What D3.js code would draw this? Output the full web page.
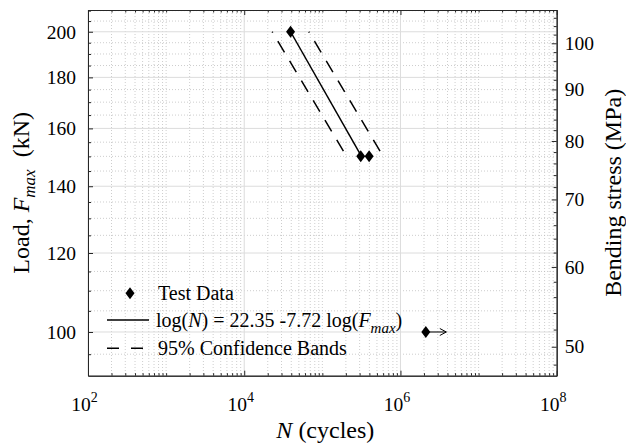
<!DOCTYPE html>
<html>
<head>
<meta charset="utf-8">
<script src="https://cdn.jsdelivr.net/npm/d3@7"></script>
<style>
  body { margin: 0; background: #fff; }
  .axis path, .axis line { stroke: #262626; }
</style>
</head>
<body>
<div id="chart"></div>
<script>
var margin = {top: 10, right: 69.3, bottom: 69.3, left: 88};
var serif = "'Liberation Serif', 'Times New Roman', Times, serif";

// test results
var testN = [3.92e4, 3.10e5, 3.97e5];
var testF = [200, 150, 150];
// run-out (no failure)
var runoutN = [2.11e6];
var runoutF = [100];
// regression line and 95% bands, end points
var fitN = [3.92e4, 3.17e5];
var fitF = [200, 150];
var lowerN = [2.28e4, 2.04e5];
var lowerF = [200, 150];
var upperN = [6.71e4, 6.0e5];
var upperF = [200, 150];

var xTicks = [1e2, 1e4, 1e6, 1e8];
var xTickExp = ["2", "4", "6", "8"];
var loadTicks = [100, 120, 140, 160, 180, 200];
var stressTicks = [50, 60, 70, 80, 90, 100];

var W = 626, H = 445;
var width = W - margin.left - margin.right,
    height = H - margin.top - margin.bottom;

var xScale = d3.scaleLog().domain([1e2, 1e8]).range([0, width]);
var yLoad = d3.scaleLog().domain([90.4, 210.3]).range([height, 0]);
var yStress = d3.scaleLog().domain([46.8, 107.9]).range([height, 0]);

// minor tick positions
var xMinor = [];
for (var k = 2; k < 8; k++) {
  for (var m = 1; m < 10; m++) {
    if (m == 1 && k % 2 == 0) continue;
    xMinor.push(m * Math.pow(10, k));
  }
}
var loadMinor = d3.range(95, 211, 5).filter(function(v) { return loadTicks.indexOf(v) < 0; });
var stressMinor = d3.range(48, 107, 2).filter(function(v) { return stressTicks.indexOf(v) < 0; });

var root = d3.select("#chart").append("svg")
    .attr("width", W)
    .attr("height", H)
    .attr("font-family", serif)
    .style("font-family", serif);
var svg = root.append("g")
    .attr("transform", "translate(" + margin.left + "," + margin.top + ")");

// grid
var grid = svg.append("g");
grid.selectAll(".vminor").data(xMinor).enter().append("line")
    .attr("x1", function(d) { return xScale(d); }).attr("x2", function(d) { return xScale(d); })
    .attr("y1", 0).attr("y2", height)
    .attr("stroke", "#b8b8b8").attr("stroke-width", 0.7).attr("stroke-dasharray", "1,2");
grid.selectAll(".hminor").data(loadMinor).enter().append("line")
    .attr("y1", function(d) { return yLoad(d); }).attr("y2", function(d) { return yLoad(d); })
    .attr("x1", 0).attr("x2", width)
    .attr("stroke", "#b8b8b8").attr("stroke-width", 0.7).attr("stroke-dasharray", "1,2");
grid.selectAll(".vmajor").data(xTicks).enter().append("line")
    .attr("x1", function(d) { return xScale(d); }).attr("x2", function(d) { return xScale(d); })
    .attr("y1", 0).attr("y2", height)
    .attr("stroke", "#dcdcdc").attr("stroke-width", 1);
grid.selectAll(".hmajor").data(loadTicks).enter().append("line")
    .attr("y1", function(d) { return yLoad(d); }).attr("y2", function(d) { return yLoad(d); })
    .attr("x1", 0).attr("x2", width)
    .attr("stroke", "#dcdcdc").attr("stroke-width", 1);

function pts(ns, fs) {
  return ns.map(function(n, i) { return {N: n, F: fs[i]}; });
}

var line = d3.line()
    .x(function(d) { return xScale(d.N); })
    .y(function(d) { return yLoad(d.F); });

svg.append("path")
    .datum(pts(fitN, fitF))
    .attr("d", line)
    .attr("fill", "none").attr("stroke", "#000").attr("stroke-width", 1.5);

[pts(lowerN, lowerF), pts(upperN, upperF)].forEach(function(band) {
  svg.append("path")
      .datum(band)
      .attr("d", line)
      .attr("fill", "none").attr("stroke", "#000").attr("stroke-width", 1.5)
      .attr("stroke-dasharray", "13,10").attr("stroke-dashoffset", 12);
});

var diamond = "M0,-6L4.5,0L0,6L-4.5,0Z";

svg.selectAll(".dot")
    .data(pts(testN, testF))
  .enter().append("path")
    .attr("class", "dot")
    .attr("d", diamond)
    .attr("transform", function(d) { return "translate(" + xScale(d.N) + "," + yLoad(d.F) + ")"; })
    .attr("fill", "#000");

// run-out marker with arrow
var run = svg.selectAll(".runout")
    .data(pts(runoutN, runoutF))
  .enter().append("g")
    .attr("transform", function(d) { return "translate(" + xScale(d.N) + "," + yLoad(d.F) + ")"; });
run.append("path").attr("d", diamond).attr("fill", "#000");
run.append("path")
    .attr("d", "M0,0H20.5M14,-3.5L20.5,0L14,3.5")
    .attr("fill", "none").attr("stroke", "#000").attr("stroke-width", 1);

// axes
function axisGroup() {
  return svg.append("g").attr("class", "axis");
}
function fixFont(g) {
  g.attr("font-family", serif).attr("font-size", 19.5);
  g.selectAll("text").style("font-family", serif).style("font-size", "19.5px").attr("fill", "#000");
}

var xAxis = axisGroup()
    .attr("transform", "translate(0," + height + ")")
    .call(d3.axisBottom(xScale).tickValues(xTicks).tickSize(-5).tickSizeOuter(0).tickFormat(""));
xAxis.selectAll(".tick text")
    .attr("y", 35).attr("dy", null).attr("dx", "-0.2em")
    .each(function(d, i) {
      var t = d3.select(this);
      t.append("tspan").text("10");
      t.append("tspan").attr("class", "sup").attr("dy", -9).text(xTickExp[i]);
    });
fixFont(xAxis);
xAxis.selectAll(".sup").style("font-size", "14px");

axisGroup()
    .attr("transform", "translate(0," + height + ")")
    .call(d3.axisBottom(xScale).tickValues(xMinor).tickSize(-2.5).tickSizeOuter(0).tickFormat(""));
axisGroup()
    .call(d3.axisTop(xScale).tickValues(xTicks).tickSize(-5).tickSizeOuter(0).tickFormat(""));
axisGroup()
    .call(d3.axisTop(xScale).tickValues(xMinor).tickSize(-2.5).tickSizeOuter(0).tickFormat(""));

var yAxis = axisGroup()
    .call(d3.axisLeft(yLoad).tickValues(loadTicks).tickSize(-5).tickSizeOuter(0).tickPadding(12).tickFormat(d3.format("d")));
fixFont(yAxis);
axisGroup()
    .call(d3.axisLeft(yLoad).tickValues(loadMinor).tickSize(-3).tickSizeOuter(0).tickFormat(""));

var y2Axis = axisGroup()
    .attr("transform", "translate(" + width + ",0)")
    .call(d3.axisRight(yStress).tickValues(stressTicks).tickSize(-5).tickSizeOuter(0).tickPadding(8).tickFormat(d3.format("d")));
fixFont(y2Axis);
axisGroup()
    .attr("transform", "translate(" + width + ",0)")
    .call(d3.axisRight(yStress).tickValues(stressMinor).tickSize(-3).tickSizeOuter(0).tickFormat(""));

svg.selectAll(".axis .domain").attr("stroke-width", 1);

// axis titles
var xt = svg.append("text")
    .attr("x", width / 2 + 3).attr("y", height + 62.3)
    .attr("text-anchor", "middle").style("font-size", "24px");
xt.append("tspan").style("font-style", "italic").text("N");
xt.append("tspan").text(" (cycles)");

var yt = svg.append("text")
    .attr("transform", "translate(" + (29 - margin.left) + "," + (height / 2) + ") rotate(-90)")
    .attr("text-anchor", "middle").style("font-size", "24px");
yt.append("tspan").text("Load, ");
yt.append("tspan").style("font-style", "italic").text("F");
yt.append("tspan").style("font-style", "italic").style("font-size", "17px").attr("dy", 6).text("max");
yt.append("tspan").attr("dy", -6).text("\u00a0\u00a0(kN)");

svg.append("text")
    .attr("transform", "translate(" + (621 - margin.left) + "," + (height / 2) + ") rotate(-90)")
    .attr("text-anchor", "middle").style("font-size", "24px")
    .text("Bending stress (MPa)");

// legend
var leg = svg.append("g").attr("transform", "translate(" + (107 - margin.left) + "," + (293.3 - margin.top) + ")");
leg.append("path").attr("d", diamond).attr("transform", "translate(23,0)").attr("fill", "#000");
leg.append("text").attr("x", 51).attr("y", 6.7).style("font-size", "20px").text("Test Data");

leg.append("line").attr("x1", 0).attr("x2", 42).attr("y1", 26.7).attr("y2", 26.7)
    .attr("stroke", "#000").attr("stroke-width", 1.5);
var lt = leg.append("text").attr("x", 49).attr("y", 33.4).style("font-size", "20px");
lt.append("tspan").text("log(");
lt.append("tspan").style("font-style", "italic").text("N");
lt.append("tspan").text(") = 22.35 -7.72 log(");
lt.append("tspan").style("font-style", "italic").text("F");
lt.append("tspan").style("font-style", "italic").style("font-size", "15px").attr("dy", 6).text("max");
lt.append("tspan").attr("dy", -6).text(")");

leg.append("line").attr("x1", 0).attr("x2", 38).attr("y1", 55).attr("y2", 55)
    .attr("stroke", "#000").attr("stroke-width", 1.5).attr("stroke-dasharray", "12,12");
leg.append("text").attr("x", 51).attr("y", 61.7).style("font-size", "20px").text("95% Confidence Bands");
</script>
</body>
</html>
